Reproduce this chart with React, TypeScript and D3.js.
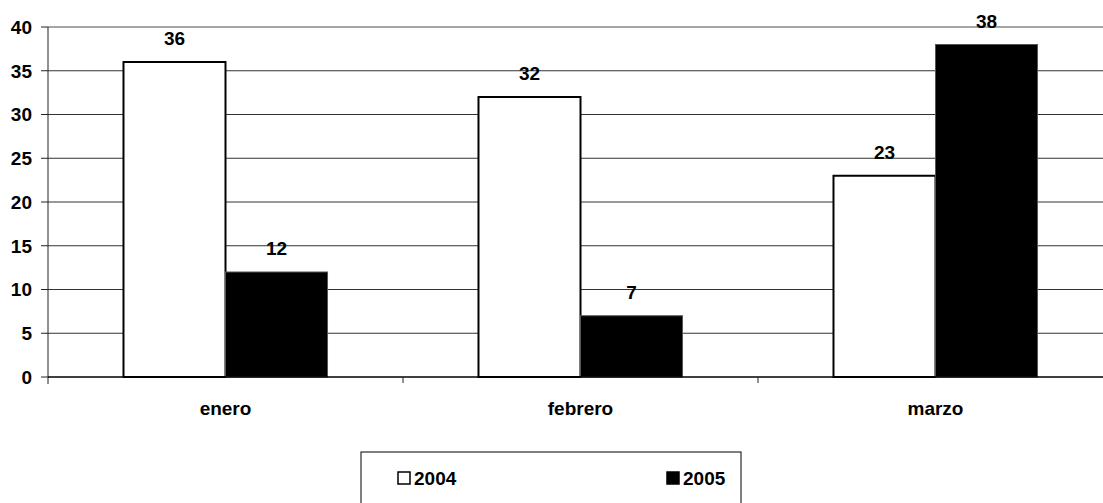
import React from "react";
import * as d3 from "d3";

const months = ["enero", "febrero", "marzo"];
const seriesNames = ["2004", "2005"];
const values2004 = [36, 32, 23];
const values2005 = [12, 7, 38];
const yTicks = [0, 5, 10, 15, 20, 25, 30, 35, 40];

const fills: Record<string, string> = { "2004": "#ffffff", "2005": "#000000" };

export default function App() {
  const width = 1103;
  const height = 503;
  const margin = { left: 48, top: 27, bottom: 377, right: 1113 };

  const x = d3.scaleBand().domain(months).range([margin.left, margin.right]);
  const xInner = d3
    .scaleBand()
    .domain(seriesNames)
    .range([0, x.bandwidth()])
    .paddingInner(0)
    .paddingOuter(0.74);
  const y = d3.scaleLinear().domain([0, 40]).range([margin.bottom, margin.top]);

  const rows = months.map((m, i) => ({
    month: m,
    "2004": values2004[i],
    "2005": values2005[i],
  }));

  const font = "'Liberation Sans', Arial, sans-serif";

  return (
    <svg
      width={width}
      height={height}
      style={{ position: "absolute", left: 0, top: 0, background: "#fff" }}
      fontFamily={font}
      fontWeight="bold"
    >
      {/* gridlines */}
      {yTicks.slice(1).map((t) => (
        <line
          key={t}
          x1={margin.left}
          x2={width}
          y1={y(t)}
          y2={y(t)}
          stroke={t === 40 ? "#888" : "#333"}
          strokeWidth={t === 40 ? 1.5 : 1}
        />
      ))}
      {/* y axis */}
      <line x1={margin.left} x2={margin.left} y1={y(40)} y2={y(0) + 7} stroke="#222" strokeWidth={1} />
      {yTicks.map((t) => (
        <g key={t}>
          <line x1={margin.left - 7} x2={margin.left} y1={y(t)} y2={y(t)} stroke="#222" />
          <text x={32} y={y(t)} dy="0.36em" textAnchor="end" fontSize={19}>
            {t}
          </text>
        </g>
      ))}
      {/* bars */}
      {rows.map((r) =>
        seriesNames.map((s) => {
          const v = r[s as "2004" | "2005"];
          const bx = (x(r.month) as number) + (xInner(s) as number);
          const bw = xInner.bandwidth();
          return (
            <g key={r.month + s}>
              <rect
                x={bx}
                y={y(v)}
                width={bw}
                height={y(0) - y(v)}
                fill={fills[s]}
                stroke={s === "2004" ? "#000" : "#555"}
                strokeWidth={s === "2004" ? 2 : 1}
              />
              <text x={bx + bw / 2} y={y(v) - 17} textAnchor="middle" fontSize={19}>
                {v}
              </text>
            </g>
          );
        })
      )}
      {/* x axis */}
      <line x1={margin.left} x2={width} y1={y(0)} y2={y(0)} stroke="#000" strokeWidth={1.5} />
      {months.map((m, i) => (
        <g key={m}>
          {i > 0 && (
            <line
              x1={x(m) as number}
              x2={x(m) as number}
              y1={y(0)}
              y2={y(0) + 6}
              stroke="#222"
            />
          )}
          <text
            x={(x(m) as number) + x.bandwidth() / 2}
            y={415}
            textAnchor="middle"
            fontSize={19}
          >
            {m}
          </text>
        </g>
      ))}
      {/* legend */}
      <rect x={361} y={452} width={380} height={80} fill="#fff" stroke="#000" strokeWidth={1} />
      {seriesNames.map((s, i) => {
        const lx = [398, 667][i];
        return (
          <g key={s}>
            <rect x={lx} y={472} width={12} height={12} fill={fills[s]} stroke="#000" strokeWidth={1.5} />
            <text x={lx + 16} y={485} fontSize={19}>
              {s}
            </text>
          </g>
        );
      })}
    </svg>
  );
}
